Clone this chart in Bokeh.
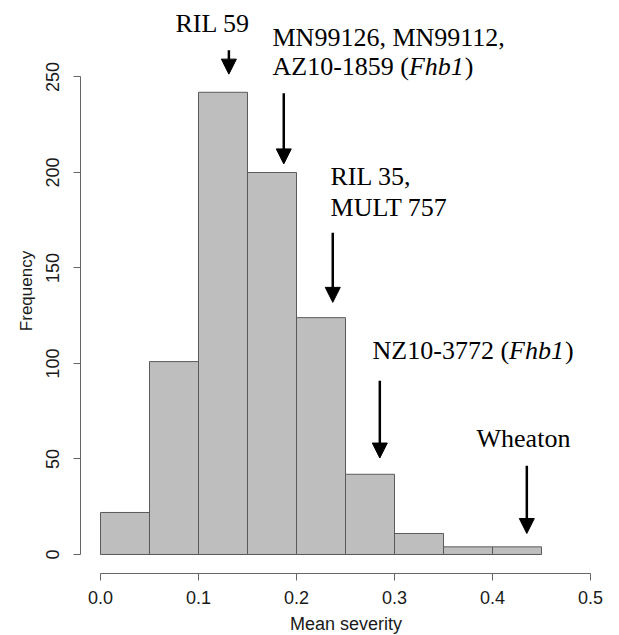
from bokeh.plotting import figure
from bokeh.models import (Range1d, FixedTicker, PrintfTickFormatter, Arrow,
                          NormalHead, ColumnDataSource)
from bokeh.core.properties import value
from bokeh.embed import file_html
from bokeh.resources import INLINE

# ---- data ----
bin_edges = [0.0, 0.05, 0.10, 0.15, 0.20, 0.25, 0.30, 0.35, 0.40, 0.45]
counts = [22, 101, 242, 200, 124, 42, 11, 4, 4]

x_ticks = [0.0, 0.1, 0.2, 0.3, 0.4, 0.5]
y_ticks = [0, 50, 100, 150, 200, 250]

# marked lines: mean severity of each arrow, arrow top and tip (frequency units)
arrow_x = [0.131, 0.187, 0.237, 0.285, 0.435]
arrow_top = [264.0, 241.5, 168.5, 91.0, 46.5]
arrow_tip = [251.5, 204.5, 132.0, 50.5, 11.0]

# annotation texts (normal part), anchored at left/baseline
label_text = ["RIL 59", "MN99126, MN99112,", "AZ10-1859 (", "RIL 35,",
              "MULT 757", "NZ10-3772 (", "Wheaton"]
label_x = [0.0765, 0.1755, 0.1755, 0.2347, 0.2347, 0.2776, 0.3837]
label_y = [277.8, 270.8, 255.3, 197.8, 181.6, 107.0, 60.5]

# italic gene names
gene_text = ["Fhb1", "Fhb1"]
gene_x = [0.1755, 0.2776]
gene_y = [255.3, 107.0]

FS = 26  # px, serif annotation font
prefix_em = 5.249   # width of "AZ10-1859 (" / "NZ10-3772 (" in em (Times metrics)
gene_em = 2.111     # width of italic "Fhb1"

p = figure(frame_width=531, frame_height=565,
           x_range=Range1d(-0.0204, 0.5214), y_range=Range1d(-9.95, 285.86),
           output_backend="svg", toolbar_location=None,
           min_border_left=80, min_border_right=8, min_border_top=8,
           min_border_bottom=62)
p.outline_line_color = None
p.xgrid.visible = False
p.ygrid.visible = False
p.background_fill_color = "white"

# histogram bars
p.quad(left=bin_edges[:-1], right=bin_edges[1:], bottom=0, top=counts,
       fill_color="#BEBEBE", line_color="#5a5a5a", line_width=1)

# axes
axcol = "#666666"
for ax in (p.xaxis[0], p.yaxis[0]):
    ax.axis_line_color = axcol
    ax.major_tick_line_color = axcol
    ax.minor_tick_line_color = None
    ax.major_tick_in = 0
    ax.major_tick_out = 7
    ax.major_label_text_font = "Liberation Sans"
    ax.major_label_text_font_size = "18px"
    ax.major_label_text_color = "#1a1a1a"
    ax.axis_label_text_font = "Liberation Sans"
    ax.axis_label_text_font_style = "normal"
    ax.axis_label_text_color = "#1a1a1a"

p.xaxis.ticker = FixedTicker(ticks=x_ticks)
p.xaxis.formatter = PrintfTickFormatter(format="%.1f")
p.xaxis.bounds = (x_ticks[0], x_ticks[-1])
p.xaxis.major_label_standoff = 10
p.xaxis.axis_label = "Mean severity"
p.xaxis.axis_label_text_font_size = "18px"
p.xaxis.axis_label_standoff = 7

p.yaxis.ticker = FixedTicker(ticks=y_ticks)
p.yaxis.bounds = (y_ticks[0], y_ticks[-1])
p.yaxis.major_label_orientation = "vertical"
p.yaxis.major_label_standoff = 14
p.yaxis.axis_label = "Frequency"
p.yaxis.axis_label_text_font_size = "17px"
p.yaxis.axis_label_standoff = 8

# arrows
asrc = ColumnDataSource(dict(x0=arrow_x, y0=arrow_top, x1=arrow_x, y1=arrow_tip))
p.add_layout(Arrow(source=asrc, x_start="x0", y_start="y0", x_end="x1", y_end="y1",
                   line_color="black", line_width=2.5,
                   end=NormalHead(size=15, fill_color="black", line_color="black",
                                  line_width=1)))

# annotation texts
p.text(x=label_x, y=label_y, text=label_text, text_font=value("Liberation Serif"),
       text_font_size=f"{FS}px", text_align="left", text_baseline="alphabetic",
       text_color="black")
p.text(x=gene_x, y=gene_y, text=gene_text, text_font=value("Liberation Serif"),
       text_font_style="italic", text_font_size=f"{FS}px", text_align="left",
       text_baseline="alphabetic", text_color="black", x_offset=prefix_em * FS)
p.text(x=gene_x, y=gene_y, text=[")"] * len(gene_x), text_font=value("Liberation Serif"),
       text_font_size=f"{FS}px", text_align="left", text_baseline="alphabetic",
       text_color="black", x_offset=(prefix_em + gene_em) * FS + 1)

open("out.html", "w").write(file_html(p, INLINE))
